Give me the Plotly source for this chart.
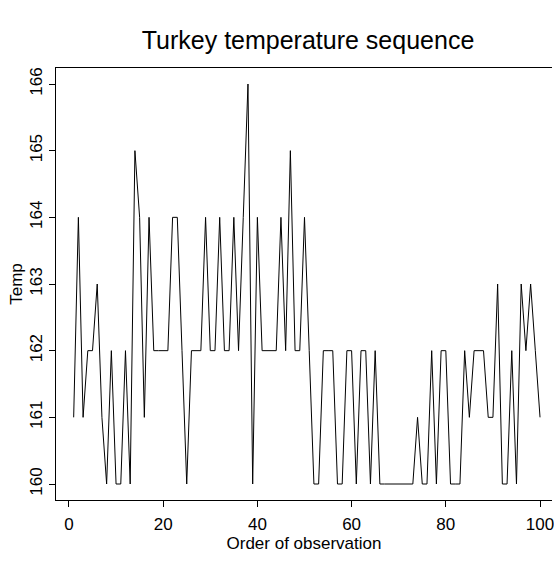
import plotly.graph_objects as go

order = list(range(1, 101))
temp = [161, 164, 161, 162, 162, 163, 161, 160, 162, 160,
        160, 162, 160, 165, 164, 161, 164, 162, 162, 162,
        162, 164, 164, 162, 160, 162, 162, 162, 164, 162,
        162, 164, 162, 162, 164, 162, 164, 166, 160, 164,
        162, 162, 162, 162, 164, 162, 165, 162, 162, 164,
        162, 160, 160, 162, 162, 162, 160, 160, 162, 162,
        160, 162, 162, 160, 162, 160, 160, 160, 160, 160,
        160, 160, 160, 161, 160, 160, 162, 160, 162, 162,
        160, 160, 160, 162, 161, 162, 162, 162, 161, 161,
        163, 160, 160, 162, 160, 163, 162, 163, 162, 161]
x_ticks = [0, 20, 40, 60, 80, 100]
y_ticks = [160, 161, 162, 163, 164, 165, 166]

FONT = "Liberation Sans, Arial, sans-serif"

fig = go.Figure(go.Scatter(x=order, y=temp, mode="lines",
                           line=dict(color="black", width=1), showlegend=False))

fig.update_layout(
    width=554, height=563,
    margin=dict(l=56, r=0, t=68, b=63),
    paper_bgcolor="white", plot_bgcolor="white",
    font=dict(family=FONT, color="black", size=17),
    title=dict(text="Turkey temperature sequence", x=308/554, xanchor="center",
               xref="container", y=1-40/563, yanchor="middle", yref="container",
               font=dict(size=25, family=FONT, color="black")),
)
fig.update_xaxes(range=[-2.75, 102.54], tickvals=x_ticks, ticks="outside", ticklen=6,
                 tickcolor="black", showline=True, linecolor="black", linewidth=1,
                 mirror=True, showgrid=False, zeroline=False,
                 tickfont=dict(size=17), ticklabeloverflow="allow",
                 ticklabelstandoff=3,
                 title=dict(text="Order of observation", font=dict(size=17), standoff=0))
fig.update_yaxes(range=[159.76, 166.24], tickvals=y_ticks, ticks="outside", ticklen=6,
                 tickcolor="black", showline=True, linecolor="black", linewidth=1,
                 showgrid=False, zeroline=False, tickangle=-90,
                 tickfont=dict(size=17), ticklabeloverflow="allow",
                 title=dict(text="Temp", font=dict(size=17), standoff=0))

fig.write_html("out.html")
